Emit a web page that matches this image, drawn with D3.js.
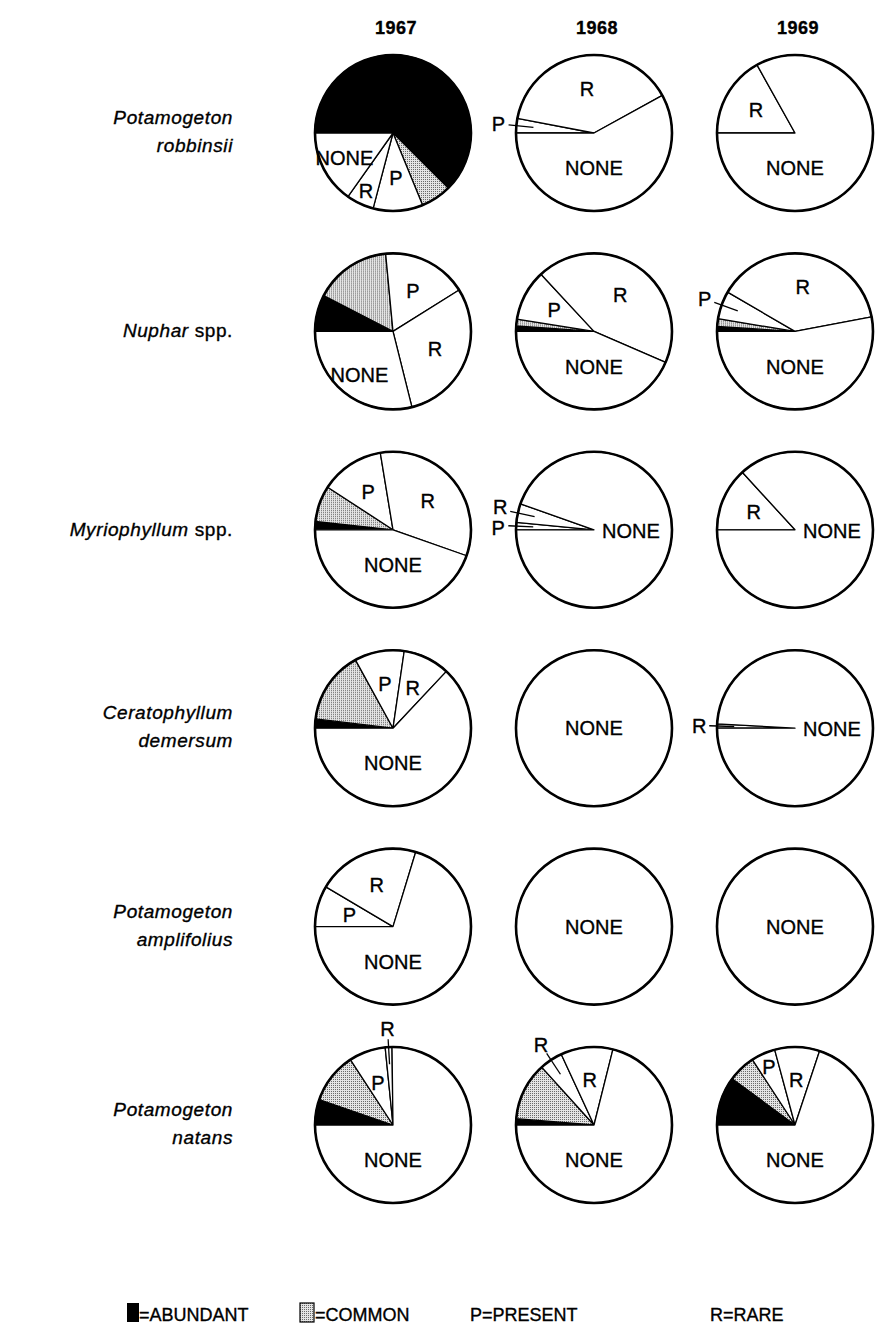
<!DOCTYPE html>
<html>
<head>
<meta charset="utf-8">
<script src="https://cdn.jsdelivr.net/npm/d3@7"></script>
<style>
  body { margin: 0; background: #fff; }
  svg text { font-family: "Liberation Sans", Arial, sans-serif; fill: #000; stroke: #000; stroke-width: 0.35px; }
</style>
</head>
<body>
<svg id="chart"></svg>
<script>
const width = 881;
const height = 1344;

// data (percent of sample stations in each class)
const years = ["1967", "1968", "1969"];
const genus = ["Potamogeton", "Nuphar", "Myriophyllum", "Ceratophyllum", "Potamogeton", "Potamogeton"];
const epithet = ["robbinsii", "spp.", "spp.", "demersum", "amplifolius", "natans"];
const categories = ["Abundant", "Common", "Present", "Rare", "None"];

const values1967 = [
  [62.5, 6.3, 10.3, 5.7, 15.2],
  [7.6, 15.9, 17.6, 30.0, 28.9],
  [1.7, 7.5, 13.2, 33.0, 44.6],
  [1.9, 15.1, 10.3, 9.7, 63.0],
  [0, 0, 8.5, 21.2, 70.3],
  [5.3, 10.5, 7.6, 1.4, 75.2]
];
const values1968 = [
  [0, 0, 3.0, 39.0, 58.0],
  [1.1, 1.4, 10.6, 43.4, 43.5],
  [0, 0, 1.5, 3.9, 94.6],
  [0, 0, 0, 0, 100],
  [0, 0, 0, 0, 100],
  [1.3, 12.0, 4.8, 10.8, 71.1]
];
const values1969 = [
  [0, 0, 0, 16.9, 83.1],
  [1.0, 1.6, 5.8, 38.6, 53.0],
  [0, 0, 0, 13.2, 86.8],
  [0, 0, 0, 0.9, 99.1],
  [0, 0, 0, 0, 100],
  [10.1, 5.7, 5.0, 9.3, 69.9]
];
const valuesByYear = { "1967": values1967, "1968": values1968, "1969": values1969 };

const letters = { Present: "P", Rare: "R", None: "NONE" };
const legendLabels = ["=ABUNDANT", "=COMMON", "P=PRESENT", "R=RARE"];

// slices whose letter sits outside the circle on a leader line
const callouts = ["0|1968|Present", "1|1969|Present", "2|1968|Present", "2|1968|Rare",
                  "3|1969|Rare", "5|1967|Rare", "5|1968|Present"];
// the figure prints R on this thin wedge
const relabel = { "5|1968|Present": "R" };
// pies where NONE is written to the right of the centre
const noneBeside = ["2|1968", "2|1969", "3|1969"];

const svg = d3.select("#chart")
  .attr("width", width)
  .attr("height", height);

const defs = svg.append("defs");
const pat = defs.append("pattern")
  .attr("id", "stipple")
  .attr("width", 2)
  .attr("height", 2)
  .attr("patternUnits", "userSpaceOnUse");
pat.append("rect").attr("width", 2).attr("height", 2).attr("fill", "#e4e4e4");
pat.append("rect").attr("width", 1).attr("height", 1).attr("fill", "#6a6a6a");

const fills = { Abundant: "#000", Common: "url(#stipple)", Present: "#fff", Rare: "#fff", None: "#fff" };

const x = d3.scalePoint().domain(years).range([393, 795]);
const y = d3.scalePoint().domain(d3.range(genus.length)).range([133, 1125]);
const r = 78;

const pie = d3.pie()
  .sort(null)
  .startAngle(-Math.PI / 2)
  .endAngle(1.5 * Math.PI)
  .value(d => d.value);

const arc = d3.arc().innerRadius(0).outerRadius(r);

function polar(a, rad) {
  return [Math.sin(a) * rad, -Math.cos(a) * rad];
}

// year headers
svg.selectAll("text.year")
  .data(years)
  .join("text")
  .attr("class", "year")
  .attr("x", d => x(d) + 3)
  .attr("y", 34)
  .attr("text-anchor", "middle")
  .style("font-weight", "bold")
  .style("font-size", "18px")
  .style("letter-spacing", "0.5px")
  .text(d => d);

// species names
genus.forEach(function(g, i) {
  const cy = y(i);
  const t = svg.append("text")
    .attr("text-anchor", "end")
    .style("font-size", "19px")
    .style("letter-spacing", "0.6px");
  if (epithet[i] === "spp.") {
    t.attr("x", 233).attr("y", cy + 6);
    t.append("tspan").style("font-style", "italic").text(g);
    t.append("tspan").text(" spp.");
  } else {
    t.attr("x", 233).attr("y", cy - 9).style("font-style", "italic").text(g);
    svg.append("text")
      .attr("x", 233)
      .attr("y", cy + 19)
      .attr("text-anchor", "end")
      .style("font-size", "19px")
      .style("letter-spacing", "0.6px")
      .style("font-style", "italic")
      .text(epithet[i]);
  }
});

// pies
years.forEach(function(yr) {
  valuesByYear[yr].forEach(function(row, i) {
    const cx = x(yr), cy = y(i);
    const g = svg.append("g").attr("transform", `translate(${cx},${cy})`);
    const slices = row.map((v, k) => ({ cat: categories[k], value: v })).filter(d => d.value > 0);
    const arcs = pie(slices);

    g.selectAll("path.slice")
      .data(arcs)
      .join("path")
      .attr("class", "slice")
      .attr("d", arc)
      .attr("fill", d => fills[d.data.cat])
      .attr("stroke", "#000")
      .attr("stroke-width", 1.3)
      .attr("stroke-linejoin", "round");

    g.append("circle")
      .attr("r", r)
      .attr("fill", "none")
      .attr("stroke", "#000")
      .attr("stroke-width", 2.6);

    const outside = [];

    arcs.forEach(function(d) {
      const key = `${i}|${yr}|${d.data.cat}`;
      const label = relabel[key] || letters[d.data.cat];
      if (!label) return;
      const span = d.endAngle - d.startAngle;
      const mid = (d.startAngle + d.endAngle) / 2;
      const t = g.append("text")
        .style("font-size", "20px")
        .attr("dy", "0.36em")
        .attr("text-anchor", "middle")
        .text(label);

      if (callouts.includes(key)) {
        const p0 = polar(mid, r * 0.78);
        const p1 = polar(mid, r * 1.1);
        const pt = polar(mid, r * 1.23);
        g.append("line")
          .attr("x1", p0[0]).attr("y1", p0[1])
          .attr("x2", p1[0]).attr("y2", p1[1])
          .attr("stroke", "#000")
          .attr("stroke-width", 1.3);
        outside.push({ t: t, x: pt[0], y: pt[1] });
      } else if (d.data.cat === "None") {
        if (span >= 2 * Math.PI - 1e-6) {
          t.attr("x", 0).attr("y", 0);
        } else if (noneBeside.includes(`${i}|${yr}`)) {
          t.attr("text-anchor", "start").attr("x", 8).attr("y", 1);
        } else if (span < 2.1) {
          const p = polar(mid, r * 0.7);
          t.attr("x", p[0]).attr("y", p[1]);
        } else {
          t.attr("x", 0).attr("y", r * 0.45);
        }
      } else {
        const p = polar(mid, span < 0.45 ? r * 0.82 : r * 0.58);
        t.attr("x", p[0]).attr("y", p[1]);
      }
    });

    // spread callout letters that would collide
    outside.sort((a, b) => a.y - b.y);
    for (let k = 1; k < outside.length; k++) {
      const gap = outside[k].y - outside[k - 1].y;
      if (gap < 21) {
        const push = (21 - gap) / 2;
        outside[k - 1].y -= push;
        outside[k].y += push;
      }
    }
    outside.forEach(o => o.t.attr("x", o.x).attr("y", o.y));
  });
});

// legend
const legendX = [127, 300, 470, 710];
const lg = svg.append("g").attr("transform", "translate(0,1313)");
lg.append("rect")
  .attr("x", legendX[0]).attr("y", -10)
  .attr("width", 12).attr("height", 19)
  .attr("fill", "#000");
lg.append("rect")
  .attr("x", legendX[1]).attr("y", -10)
  .attr("width", 14).attr("height", 19)
  .attr("fill", fills.Common)
  .attr("stroke", "#000")
  .attr("stroke-width", 1.2);
lg.selectAll("text")
  .data(legendLabels)
  .join("text")
  .attr("x", (d, k) => legendX[k] + (k < 2 ? (k === 0 ? 12 : 15) : 0))
  .attr("y", 8)
  .style("font-size", "18px")
  .text(d => d);
</script>
</body>
</html>
